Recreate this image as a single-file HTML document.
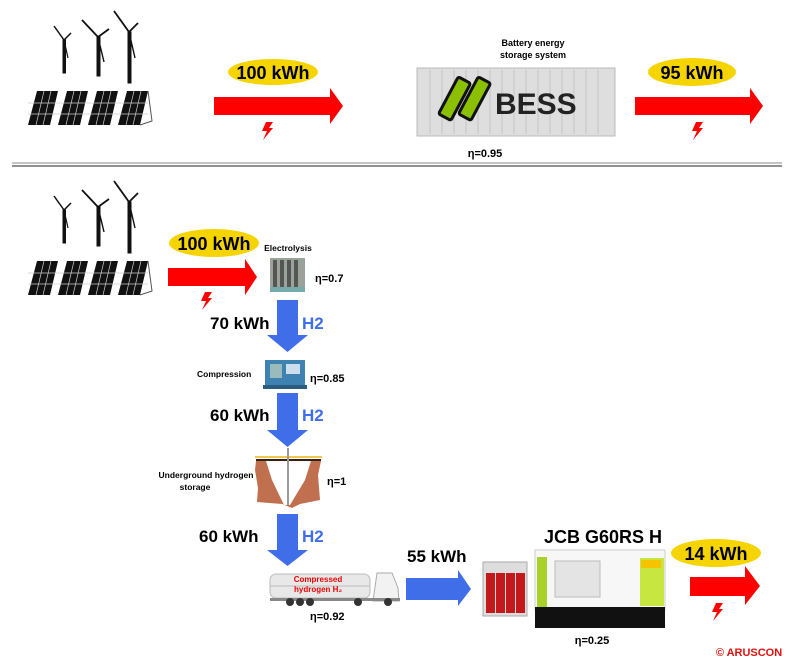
<!DOCTYPE html>
<html><head><meta charset="utf-8"><style>
html,body{margin:0;padding:0;background:#fff;width:800px;height:668px;overflow:hidden}
svg{display:block;font-family:"Liberation Sans",Arial,sans-serif}
</style></head><body>
<svg width="800" height="668" viewBox="0 0 800 668">
<defs>
<g id="farm">
 <g stroke="#111" fill="#111">
  <rect x="63" y="40" width="2.5" height="33"/><line x1="64" y1="40" x2="54" y2="26" stroke-width="1.5"/><line x1="64" y1="40" x2="71" y2="33" stroke-width="1.5"/><line x1="64" y1="40" x2="68" y2="58" stroke-width="1.2"/>
  <rect x="97" y="37" width="3" height="39"/><line x1="98" y1="37" x2="82" y2="20" stroke-width="1.8"/><line x1="98" y1="37" x2="109" y2="29" stroke-width="1.8"/><line x1="98" y1="37" x2="104" y2="62" stroke-width="1.4"/>
  <rect x="128" y="32" width="3" height="51"/><line x1="129" y1="32" x2="114" y2="11" stroke-width="1.8"/><line x1="129" y1="32" x2="138" y2="23" stroke-width="1.8"/><line x1="129" y1="32" x2="135" y2="58" stroke-width="1.4"/>
 </g>
 <g fill="#111">
  <polygon points="37,91 58,91 50,125 28,125"/>
  <polygon points="67,91 88,91 80,125 58,125"/>
  <polygon points="97,91 118,91 110,125 88,125"/>
  <polygon points="127,91 148,91 140,125 118,125"/>
 </g>
 <g stroke="#ccc" stroke-width="0.7">
  <line x1="28" y1="103" x2="148" y2="103"/><line x1="28" y1="114" x2="148" y2="114"/>
  <line x1="44" y1="91" x2="36" y2="125"/><line x1="51" y1="91" x2="43" y2="125"/>
  <line x1="74" y1="91" x2="66" y2="125"/><line x1="81" y1="91" x2="73" y2="125"/>
  <line x1="104" y1="91" x2="96" y2="125"/><line x1="111" y1="91" x2="103" y2="125"/>
  <line x1="134" y1="91" x2="126" y2="125"/><line x1="141" y1="91" x2="133" y2="125"/>
 </g>
 <polyline points="148,91 152,121 140,125" fill="none" stroke="#555" stroke-width="1"/>
</g>
<g id="bolt"><polygon points="4,0 11,0 7,6 11,6 1,18 5,9 0,9" fill="#f00"/></g>
</defs>

<!-- TOP -->
<use href="#farm"/>
<ellipse cx="273" cy="72" rx="45" ry="13" fill="#f5d400"/>
<text x="273" y="79" font-size="18" font-weight="bold" text-anchor="middle">100 kWh</text>
<polygon points="214,97 330,97 330,88 343,106 330,124 330,115 214,115" fill="#f00"/>
<use href="#bolt" x="262" y="122"/>

<text x="533" y="46" font-size="9" font-weight="bold" text-anchor="middle">Battery energy</text>
<text x="533" y="58" font-size="9" font-weight="bold" text-anchor="middle">storage system</text>
<rect x="417" y="68" width="198" height="68" fill="#dedede" stroke="#bbb"/>
<g stroke="#c4c4c4" stroke-width="1">
 <line x1="430" y1="70" x2="430" y2="134"/><line x1="442" y1="70" x2="442" y2="134"/><line x1="454" y1="70" x2="454" y2="134"/><line x1="466" y1="70" x2="466" y2="134"/><line x1="478" y1="70" x2="478" y2="134"/><line x1="490" y1="70" x2="490" y2="134"/><line x1="502" y1="70" x2="502" y2="134"/><line x1="514" y1="70" x2="514" y2="134"/><line x1="526" y1="70" x2="526" y2="134"/><line x1="538" y1="70" x2="538" y2="134"/><line x1="550" y1="70" x2="550" y2="134"/><line x1="562" y1="70" x2="562" y2="134"/><line x1="574" y1="70" x2="574" y2="134"/><line x1="586" y1="70" x2="586" y2="134"/><line x1="598" y1="70" x2="598" y2="134"/>
</g>
<g transform="rotate(28 455 100)"><rect x="447" y="78" width="14" height="42" rx="2" fill="#8bc000" stroke="#111" stroke-width="3"/></g>
<g transform="rotate(28 475 100)"><rect x="467" y="78" width="14" height="42" rx="2" fill="#8bc000" stroke="#111" stroke-width="3"/></g>
<text x="495" y="114" font-size="30" font-weight="bold" fill="#222">BESS</text>
<text x="485" y="157" font-size="11" font-weight="bold" text-anchor="middle">η=0.95</text>

<ellipse cx="692" cy="72" rx="44" ry="14" fill="#f5d400"/>
<text x="692" y="79" font-size="18" font-weight="bold" text-anchor="middle">95 kWh</text>
<polygon points="635,97 750,97 750,88 763,106 750,124 750,115 635,115" fill="#f00"/>
<use href="#bolt" x="692" y="122"/>

<line x1="12" y1="163" x2="782" y2="163" stroke="#888" stroke-width="1"/>
<line x1="12" y1="166" x2="782" y2="166" stroke="#222" stroke-width="1"/>

<!-- BOTTOM -->
<use href="#farm" y="170"/>
<ellipse cx="214" cy="243" rx="45" ry="14" fill="#f5d400"/>
<text x="214" y="250" font-size="18" font-weight="bold" text-anchor="middle">100 kWh</text>
<polygon points="168,268 245,268 245,259 257,277 245,295 245,286 168,286" fill="#f00"/>
<use href="#bolt" x="201" y="292"/>

<text x="288" y="251" font-size="8.5" font-weight="bold" text-anchor="middle">Electrolysis</text>
<rect x="270" y="258" width="35" height="34" fill="#9aa39a"/>
<g fill="#555"><rect x="273" y="260" width="4" height="28"/><rect x="280" y="260" width="4" height="28"/><rect x="287" y="260" width="4" height="28"/><rect x="294" y="260" width="4" height="28"/></g>
<rect x="270" y="287" width="35" height="5" fill="#7aa"/>
<text x="315" y="282" font-size="11" font-weight="bold">η=0.7</text>

<polygon points="277,300 298,300 298,335 308,335 287.5,352 267,335 277,335" fill="#3f6ee8"/>
<text x="210" y="329" font-size="17" font-weight="bold">70 kWh</text>
<text x="302" y="329" font-size="17" font-weight="bold" fill="#3f6ee8">H2</text>

<text x="197" y="377" font-size="8.5" font-weight="bold">Compression</text>
<rect x="265" y="360" width="40" height="28" fill="#3d82b0"/>
<rect x="270" y="364" width="12" height="14" fill="#9bb"/><rect x="286" y="364" width="14" height="10" fill="#cde"/>
<rect x="263" y="385" width="44" height="4" fill="#2a5d80"/>
<text x="310" y="382" font-size="11" font-weight="bold">η=0.85</text>

<polygon points="277,393 298,393 298,430 308,430 287.5,447 267,430 277,430" fill="#3f6ee8"/>
<text x="210" y="421" font-size="17" font-weight="bold">60 kWh</text>
<text x="302" y="421" font-size="17" font-weight="bold" fill="#3f6ee8">H2</text>

<text x="206" y="478" font-size="8.5" font-weight="bold" text-anchor="middle">Underground hydrogen</text>
<text x="195" y="490" font-size="8.5" font-weight="bold" text-anchor="middle">storage</text>
<line x1="255" y1="457" x2="322" y2="457" stroke="#f0c850" stroke-width="2"/>
<line x1="256" y1="460" x2="321" y2="460" stroke="#3a2010" stroke-width="2"/>
<path d="M256,461 L321,461 L318,475 L320,500 L300,504 L292,508 L282,504 L257,502 L258,488 L255,470 Z" fill="#c0704f"/>
<path d="M266,461 L311,461 L305,480 L290,505 L284,505 L272,480 Z" fill="#fff"/>
<line x1="288" y1="448" x2="288" y2="505" stroke="#999" stroke-width="2"/>
<text x="327" y="485" font-size="11" font-weight="bold">η=1</text>

<polygon points="277,514 298,514 298,550 308,550 287.5,566 267,550 277,550" fill="#3f6ee8"/>
<text x="199" y="542" font-size="17" font-weight="bold">60 kWh</text>
<text x="302" y="542" font-size="17" font-weight="bold" fill="#3f6ee8">H2</text>

<rect x="270" y="574" width="100" height="24" rx="6" fill="#e8e8e8" stroke="#bbb"/>
<line x1="270" y1="586" x2="370" y2="586" stroke="#bbb"/>
<path d="M377,573 L392,573 L398,588 L399,601 L373,601 Z" fill="#f2f2f2" stroke="#aaa"/>
<rect x="270" y="598" width="130" height="3" fill="#888"/>
<g fill="#333"><circle cx="290" cy="602" r="4"/><circle cx="300" cy="602" r="4"/><circle cx="310" cy="602" r="4"/><circle cx="358" cy="602" r="4"/><circle cx="388" cy="602" r="4"/></g>
<text x="318" y="582" font-size="8" font-weight="bold" fill="#e00" text-anchor="middle">Compressed</text>
<text x="318" y="592" font-size="8" font-weight="bold" fill="#e00" text-anchor="middle">hydrogen H₂</text>
<text x="310" y="620" font-size="11" font-weight="bold">η=0.92</text>

<polygon points="406,578 458,578 458,570 471,589 458,606 458,600 406,600" fill="#3f6ee8"/>
<text x="407" y="562" font-size="17" font-weight="bold">55 kWh</text>

<rect x="483" y="562" width="44" height="54" fill="#ddd" stroke="#aaa"/>
<g fill="#c3181c"><rect x="486" y="573" width="9" height="40"/><rect x="496" y="573" width="9" height="40"/><rect x="506" y="573" width="9" height="40"/><rect x="516" y="573" width="9" height="40"/></g>

<text x="603" y="543" font-size="18" font-weight="bold" text-anchor="middle">JCB G60RS H</text>
<rect x="535" y="550" width="130" height="60" fill="#f7f7f7" stroke="#ccc"/>
<rect x="537" y="557" width="10" height="50" fill="#a8d22a"/>
<rect x="555" y="561" width="45" height="36" fill="#e4e4e4" stroke="#bbb"/>
<rect x="640" y="558" width="24" height="48" fill="#c8e640"/>
<rect x="641" y="560" width="20" height="8" fill="#f4c400"/>
<rect x="535" y="607" width="130" height="21" fill="#111"/>
<text x="592" y="644" font-size="11" font-weight="bold" text-anchor="middle">η=0.25</text>

<ellipse cx="716" cy="553" rx="45" ry="14" fill="#f5d400"/>
<text x="716" y="560" font-size="18" font-weight="bold" text-anchor="middle">14 kWh</text>
<polygon points="690,577 745,577 745,566 760,586 745,605 745,596 690,596" fill="#f00"/>
<use href="#bolt" x="712" y="603"/>

<text x="749" y="656" font-size="11" font-weight="bold" fill="#e01010" text-anchor="middle">© ARUSCON</text>
</svg>
</body></html>
